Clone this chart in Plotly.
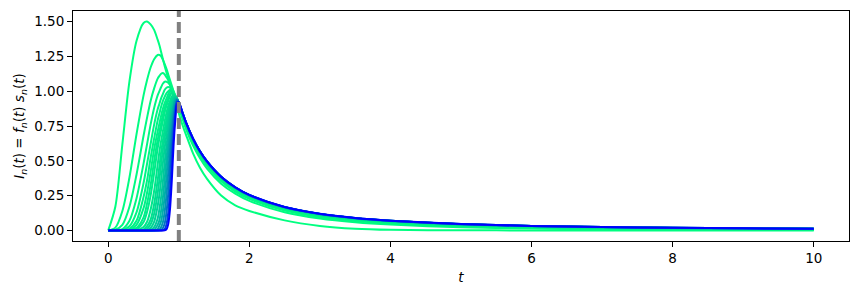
import plotly.graph_objects as go

# time grid (x values shared by all curves)
t = [0, 0.1, 0.2, 0.3, 0.4, 0.5, 0.55, 0.6, 0.65, 0.7, 0.725, 0.75, 0.775, 0.8,
     0.825, 0.85, 0.875, 0.9, 0.925, 0.95, 0.975, 1.0, 1.05, 1.1, 1.2, 1.3, 1.4,
     1.6, 1.8, 2.0, 2.5, 3.0, 3.5, 4.0, 5.0, 6.0, 7.0, 8.0, 9.0, 10.0]

n_values = [1, 2, 3, 4, 5, 6, 7, 8, 9, 11, 13, 15, 18, 22, 27, 33, 42, 55, 75, 100]

I_1 = [0, 0.17, 0.62, 1.07, 1.36, 1.49, 1.50, 1.48, 1.44, 1.37, 1.33, 1.28, 1.23, 1.18,
       1.135, 1.09, 1.045, 1.0, 0.96, 0.92, 0.88, 0.84,
       0.76, 0.69, 0.555, 0.45, 0.37, 0.25, 0.18, 0.14, 0.072, 0.032, 0.012, 0.004, 0.001, 0, 0, 0, 0, 0]
I_2 = [0, 0.02, 0.14, 0.38, 0.69, 0.97, 1.08, 1.17, 1.23, 1.26, 1.26, 1.25, 1.225, 1.195,
       1.16, 1.12, 1.08, 1.04, 1.0, 0.96, 0.92, 0.88,
       0.807, 0.731, 0.611, 0.518, 0.444, 0.336, 0.264, 0.212, 0.131, 0.086, 0.059, 0.042, 0.0225, 0.013, 0.008, 0.0051, 0.0034, 0.0023]
I_3 = [0, 0.005, 0.04, 0.17, 0.40, 0.68, 0.81, 0.93, 1.02, 1.09, 1.11, 1.125, 1.13, 1.12,
       1.10, 1.08, 1.05, 1.02, 0.99, 0.96, 0.93, 0.895,
       0.819, 0.747, 0.631, 0.538, 0.464, 0.353, 0.279, 0.226, 0.142, 0.095, 0.067, 0.05, 0.0285, 0.0176, 0.0115, 0.0078, 0.0055, 0.004]
I_4 = [0, 0, 0.01, 0.07, 0.23, 0.48, 0.62, 0.76, 0.88, 0.97, 1.0, 1.03, 1.055, 1.068,
       1.068, 1.06, 1.045, 1.025, 1.0, 0.97, 0.935, 0.9,
       0.828, 0.755, 0.638, 0.546, 0.474, 0.365, 0.29, 0.236, 0.15, 0.102, 0.073, 0.055, 0.033, 0.021, 0.0144, 0.0103, 0.0075, 0.0056]
I_5 = [0, 0, 0.003, 0.03, 0.13, 0.34, 0.48, 0.62, 0.76, 0.87, 0.91, 0.95, 0.98, 1.01,
       1.025, 1.03, 1.025, 1.01, 0.99, 0.965, 0.94, 0.905,
       0.832, 0.761, 0.644, 0.553, 0.48, 0.371, 0.295, 0.241, 0.155, 0.107, 0.077, 0.059, 0.036, 0.024, 0.017, 0.012, 0.0091, 0.007]
I_6 = [0, 0, 0.001, 0.012, 0.07, 0.24, 0.36, 0.52, 0.66, 0.79, 0.84, 0.89, 0.93, 0.96,
       0.985, 1.0, 1.008, 1.0, 0.985, 0.965, 0.94, 0.908,
       0.836, 0.765, 0.648, 0.556, 0.483, 0.374, 0.298, 0.244, 0.158, 0.109, 0.08, 0.061, 0.038, 0.0256, 0.0182, 0.0134, 0.0103, 0.008]
I_7 = [0, 0, 0, 0.005, 0.04, 0.16, 0.271, 0.42, 0.584, 0.71, 0.768, 0.826, 0.875, 0.916,
       0.946, 0.979, 0.998, 0.997, 0.984, 0.963, 0.94, 0.91,
       0.8385, 0.767, 0.65, 0.558, 0.485, 0.376, 0.3, 0.2455, 0.1595, 0.1105, 0.0815, 0.0625, 0.0395, 0.0268, 0.0192, 0.0143, 0.0111, 0.0087]
I_8 = [0, 0, 0, 0.002, 0.018, 0.094, 0.193, 0.325, 0.498, 0.65, 0.711, 0.772, 0.832, 0.881,
       0.919, 0.95, 0.98, 0.99, 0.98, 0.96, 0.94, 0.912,
       0.841, 0.769, 0.652, 0.56, 0.487, 0.378, 0.302, 0.247, 0.161, 0.112, 0.083, 0.064, 0.041, 0.0279, 0.0201, 0.0152, 0.0119, 0.0094]
I_9 = [0, 0, 0, 0, 0.007, 0.06, 0.134, 0.25, 0.411, 0.59, 0.662, 0.726, 0.79, 0.849,
       0.895, 0.931, 0.967, 0.985, 0.977, 0.962, 0.942, 0.912,
       0.842, 0.771, 0.653, 0.562, 0.489, 0.379, 0.303, 0.248, 0.162, 0.113, 0.084, 0.065, 0.0415, 0.0286, 0.0208, 0.0158, 0.0124, 0.0099]
I_11 = [0, 0, 0, 0, 0.0015, 0.024, 0.062, 0.149, 0.283, 0.472, 0.566, 0.645, 0.715, 0.784,
        0.846, 0.895, 0.931, 0.961, 0.974, 0.965, 0.945, 0.913,
        0.843, 0.772, 0.654, 0.563, 0.49, 0.38, 0.304, 0.249, 0.163, 0.114, 0.085, 0.066, 0.042, 0.0293, 0.0215, 0.0163, 0.0129, 0.0103]
I_13 = [0, 0, 0, 0, 0, 0.007, 0.03, 0.077, 0.188, 0.359, 0.462, 0.564, 0.648, 0.724,
        0.798, 0.86, 0.905, 0.947, 0.969, 0.963, 0.946, 0.914,
        0.844, 0.7725, 0.655, 0.5635, 0.491, 0.381, 0.305, 0.25, 0.164, 0.115, 0.0855, 0.0665, 0.043, 0.0298, 0.0219, 0.0167, 0.0132, 0.0106]
I_15 = [0, 0, 0, 0, 0, 0.002, 0.012, 0.044, 0.12, 0.267, 0.366, 0.48, 0.583, 0.669,
        0.748, 0.823, 0.881, 0.923, 0.955, 0.962, 0.948, 0.915,
        0.845, 0.773, 0.656, 0.564, 0.492, 0.382, 0.306, 0.251, 0.165, 0.116, 0.086, 0.067, 0.0435, 0.0303, 0.0223, 0.0171, 0.0135, 0.0109]
I_18 = [0, 0, 0, 0, 0, 0, 0.003, 0.017, 0.061, 0.175, 0.258, 0.364, 0.488, 0.596,
        0.685, 0.77, 0.845, 0.897, 0.944, 0.956, 0.946, 0.915,
        0.8455, 0.774, 0.657, 0.565, 0.4925, 0.3825, 0.3065, 0.2515, 0.1655, 0.1165, 0.0865, 0.0675, 0.044, 0.0308, 0.0228, 0.0175, 0.0138, 0.0111]
I_22 = [0, 0, 0, 0, 0, 0, 0, 0.004, 0.024, 0.085, 0.155, 0.242, 0.356, 0.491,
        0.608, 0.704, 0.797, 0.867, 0.919, 0.952, 0.945, 0.916,
        0.846, 0.775, 0.658, 0.566, 0.493, 0.383, 0.307, 0.252, 0.166, 0.117, 0.087, 0.068, 0.0445, 0.0313, 0.0232, 0.0179, 0.0142, 0.0114]
I_27 = [0, 0, 0, 0, 0, 0, 0, 0, 0.005, 0.04, 0.074, 0.146, 0.24, 0.366,
        0.512, 0.634, 0.737, 0.831, 0.893, 0.941, 0.942, 0.9165,
        0.8465, 0.7755, 0.6585, 0.5665, 0.4935, 0.3835, 0.3075, 0.2525, 0.1665, 0.1175, 0.0875, 0.0685, 0.0448, 0.0316, 0.0235, 0.0181, 0.0144, 0.0116]
I_33 = [0, 0, 0, 0, 0, 0, 0, 0, 0.001, 0.011, 0.034, 0.067, 0.143, 0.248,
        0.39, 0.55, 0.672, 0.785, 0.869, 0.93, 0.94, 0.917,
        0.847, 0.776, 0.659, 0.567, 0.494, 0.384, 0.308, 0.253, 0.167, 0.118, 0.088, 0.069, 0.045, 0.0318, 0.0237, 0.0183, 0.0146, 0.0118]
I_42 = [0, 0, 0, 0, 0, 0, 0, 0, 0, 0.002, 0.007, 0.025, 0.06, 0.137,
        0.254, 0.417, 0.585, 0.714, 0.829, 0.901, 0.938, 0.9175,
        0.8475, 0.7765, 0.6595, 0.5675, 0.4945, 0.3845, 0.3085, 0.2535, 0.1672, 0.1182, 0.0882, 0.0692, 0.0452, 0.032, 0.0239, 0.0185, 0.0148, 0.012]
I_55 = [0, 0, 0, 0, 0, 0, 0, 0, 0, 0, 0.0005, 0.004, 0.017, 0.051,
        0.131, 0.266, 0.46, 0.633, 0.776, 0.876, 0.935, 0.918,
        0.848, 0.777, 0.66, 0.568, 0.495, 0.385, 0.309, 0.254, 0.1675, 0.1185, 0.0885, 0.0695, 0.0455, 0.0322, 0.0241, 0.0187, 0.015, 0.0122]
I_75 = [0, 0, 0, 0, 0, 0, 0, 0, 0, 0, 0, 0, 0.002, 0.01,
        0.043, 0.126, 0.284, 0.51, 0.691, 0.838, 0.924, 0.919,
        0.8485, 0.7775, 0.6605, 0.5685, 0.4955, 0.3855, 0.3095, 0.2545, 0.1678, 0.1188, 0.0888, 0.0698, 0.0458, 0.0324, 0.0243, 0.0189, 0.0152, 0.0124]
I_100 = [0, 0, 0, 0, 0, 0, 0, 0, 0, 0, 0, 0, 0, 0.001,
         0.008, 0.045, 0.152, 0.353, 0.606, 0.79, 0.909, 0.92,
         0.849, 0.778, 0.661, 0.569, 0.496, 0.386, 0.31, 0.255, 0.168, 0.119, 0.089, 0.07, 0.046, 0.0326, 0.0244, 0.019, 0.0153, 0.0125]

series = [I_1, I_2, I_3, I_4, I_5, I_6, I_7, I_8, I_9, I_11, I_13, I_15, I_18,
          I_22, I_27, I_33, I_42, I_55, I_75, I_100]

x_ticks = [0, 2, 4, 6, 8, 10]
y_ticks = [0.0, 0.25, 0.5, 0.75, 1.0, 1.25, 1.5]
t_marker = 1.0


def winter(n, n_max=100):
    # matplotlib "winter" colormap, reversed so n=1 is green and n_max is blue
    x = 1 - (n - 1) / (n_max - 1)
    return f"rgb(0,{round(255 * x)},{round(255 * (1 - 0.5 * x))})"


fig = go.Figure()
for n, vals in zip(n_values, series):
    fig.add_trace(go.Scatter(
        x=t, y=vals, mode="lines",
        line=dict(color=winter(n), width=2, shape="spline", smoothing=0.8),
        showlegend=False, hoverinfo="skip",
    ))

fig.add_shape(type="line", xref="x", yref="paper", x0=t_marker, x1=t_marker, y0=0, y1=1,
              line=dict(color="rgb(128,128,128)", width=4, dash="11px,5px"), layer="above")

font = dict(family="DejaVu Sans", size=13.5, color="black")
fig.update_layout(
    width=858, height=294,
    margin=dict(l=73, r=9, t=11, b=53),
    paper_bgcolor="white", plot_bgcolor="white",
    font=font,
    xaxis=dict(range=[-0.5, 10.5], tickvals=x_ticks, ticktext=[str(v) for v in x_ticks],
               showgrid=False, zeroline=False, showline=True, mirror=True,
               linecolor="black", linewidth=1, ticks="outside", ticklen=5, tickwidth=1,
               tickcolor="black",
               title=dict(text="<i>t</i>", standoff=7, font=font)),
    yaxis=dict(range=[-0.076, 1.576], tickvals=y_ticks, tickformat=".2f",
               showgrid=False, zeroline=False, showline=True, mirror=True,
               linecolor="black", linewidth=1, ticks="outside", ticklen=5, tickwidth=1,
               tickcolor="black",
               title=dict(text="<i>I</i><sub><i>n</i></sub>(<i>t</i>) = <i>f</i><sub><i>n</i></sub>(<i>t</i>) <i>s</i><sub><i>n</i></sub>(<i>t</i>)",
                          standoff=6, font=font)),
)

fig.write_html("out.html")
